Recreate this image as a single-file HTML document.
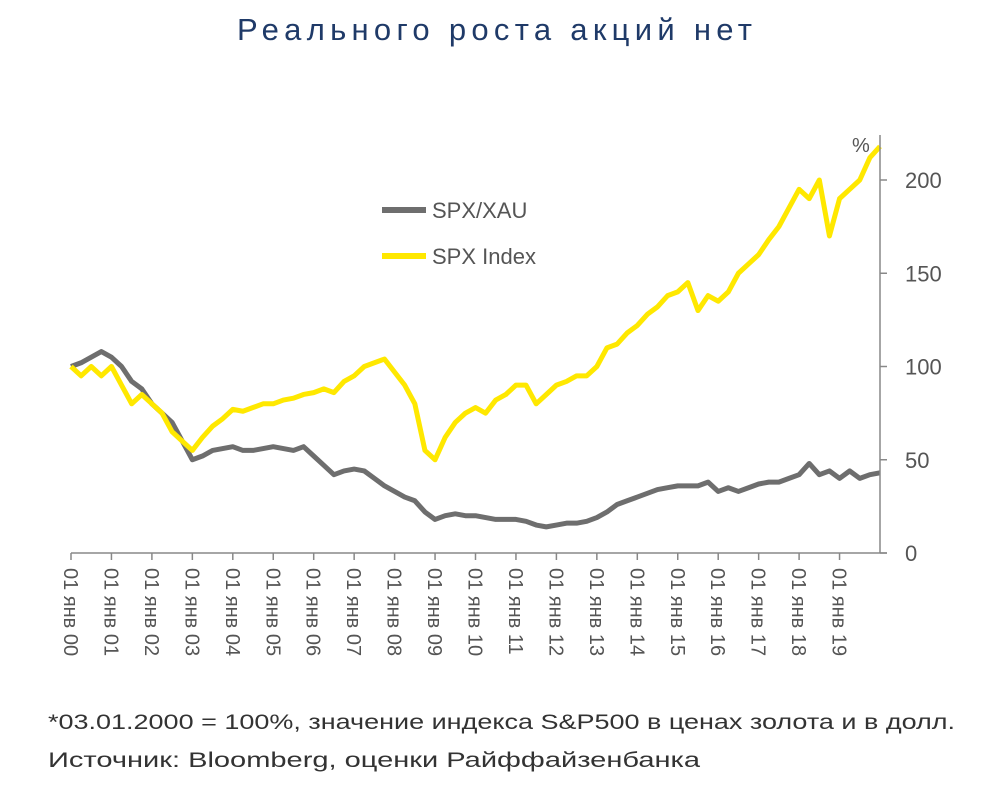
<!DOCTYPE html>
<html><head><meta charset="utf-8"><style>
body{margin:0;background:#fff;width:988px;height:799px;overflow:hidden;font-family:"Liberation Sans",sans-serif}
</style></head><body>
<svg width="988" height="799" xmlns="http://www.w3.org/2000/svg">
<text x="237" y="40" font-size="31" fill="#1f3a68" textLength="515" lengthAdjust="spacing">Реального роста акций нет</text>
<g id="plot"></g>
<g id="axes"></g>
<g>
<line x1="382" y1="210" x2="426" y2="210" stroke="#6e6e6e" stroke-width="6"/>
<text x="432" y="218" font-size="22" fill="#555">SPX/XAU</text>
<line x1="382" y1="256" x2="426" y2="256" stroke="#ffe800" stroke-width="6"/>
<text x="432" y="264" font-size="22" fill="#555">SPX Index</text>
</g>
<text x="852" y="152" font-size="20" fill="#555">%</text>
<text x="48" y="729" font-size="21" fill="#333" textLength="907" lengthAdjust="spacingAndGlyphs">*03.01.2000 = 100%, значение индекса S&amp;P500 в ценах золота и в долл.</text>
<text x="48" y="767" font-size="21" fill="#333" textLength="652" lengthAdjust="spacingAndGlyphs">Источник: Bloomberg, оценки Райффайзенбанка</text>
</svg>
<script>
const years=["00","01","02","03","04","05","06","07","08","09","10","11","12","13","14","15","16","17","18","19"];
const yTicks=[0,50,100,150,200];
const spxIndex=[100,95,100,95,100,90,80,85,80,75,65,60,55,62,68,72,77,76,78,80,80,82,83,85,86,88,86,92,95,100,102,104,97,90,80,55,50,62,70,75,78,75,82,85,90,90,80,85,90,92,95,95,100,110,112,118,122,128,132,138,140,145,130,138,135,140,150,155,160,168,175,185,195,190,200,170,190,195,200,212,218];
const spxXau=[100,102,105,108,105,100,92,88,80,75,70,60,50,52,55,56,57,55,55,56,57,56,55,57,52,47,42,44,45,44,40,36,33,30,28,22,18,20,21,20,20,19,18,18,18,17,15,14,15,16,16,17,19,22,26,28,30,32,34,35,36,36,36,38,33,35,33,35,37,38,38,40,42,48,42,44,40,44,40,42,43];
const X0=71,YW=40.45,Y0=553,K=186.5/100,AX=880;
const xS=i=>X0+i*YW/4, yS=v=>Y0-v*K;
const ns="http://www.w3.org/2000/svg";
function mk(t,a,p){const e=document.createElementNS(ns,t);for(const k in a)e.setAttribute(k,a[k]);p.appendChild(e);return e;}
const axes=document.getElementById('axes'),plot=document.getElementById('plot');
let l=mk('line',{x1:X0,y1:Y0,x2:AX,y2:Y0,stroke:'#888','stroke-width':1.5},axes);


l=mk('line',{x1:AX,y1:135,x2:AX,y2:Y0,stroke:'#888','stroke-width':1.5},axes);


years.forEach((y,i)=>{const x=X0+i*YW;
 let t=mk('line',{x1:x,y1:Y0,x2:x,y2:Y0+7,stroke:'#888','stroke-width':1.5},axes);
 
 
 let tx=mk('text',{x:0,y:0,'font-size':20,fill:'#555',transform:`translate(${x-7},568) rotate(90)`},axes);
 tx.textContent='01 янв '+y;
 
 
});
let t=mk('line',{x1:AX,y1:Y0,x2:AX+7,y2:Y0,stroke:'#888','stroke-width':1.5},axes);


yTicks.forEach(v=>{const y=yS(v);
 let tk=mk('line',{x1:AX,y1:y,x2:AX+7,y2:y,stroke:'#888','stroke-width':1.5},axes);
 
 
 let tx=mk('text',{x:905,y:y+8,'font-size':22,fill:'#555'},axes);
 tx.textContent=v;
 
 
});
function line(arr,col,name){const p=mk('polyline',{points:arr.map((v,i)=>xS(i)+','+yS(v)).join(' '),fill:'none',stroke:col,'stroke-width':5,'stroke-linejoin':'round'},plot);
 
 }
line(spxXau,'#6e6e6e','series-spx-xau');
line(spxIndex,'#ffe800','series-spx-index');
</script>
</body></html>
